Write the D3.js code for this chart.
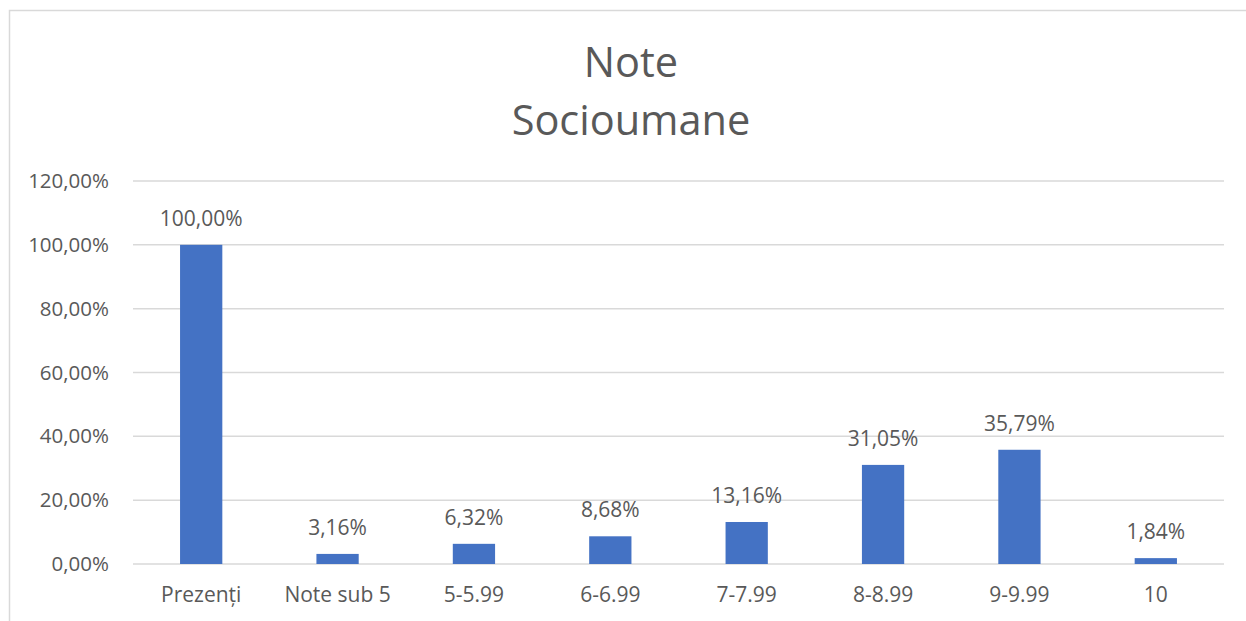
<!DOCTYPE html>
<html>
<head>
<meta charset="utf-8">
<script src="https://d3js.org/d3.v7.min.js"></script>
<style>
  body { margin: 0; background: #fff; }
  text { font-family: "Open Sans", "Noto Sans", sans-serif; fill: #595959; }
</style>
</head>
<body>
<div id="chart"></div>
<script>
// data
var categories = ["Prezenți", "Note sub 5", "5-5.99", "6-6.99", "7-7.99", "8-8.99", "9-9.99", "10"];
var values = [100.00, 3.16, 6.32, 8.68, 13.16, 31.05, 35.79, 1.84];
var yTicks = [0, 20, 40, 60, 80, 100, 120];
var titleLines = ["Note", "Socioumane"];

var W = 1246, H = 621;
var margin = {top: 181, right: 22, bottom: 57, left: 133},
    width = W - margin.left - margin.right,
    height = H - margin.top - margin.bottom;

var fmt = function(v) { return v.toFixed(2).replace(".", ",") + "%"; };

var svg = d3.select("#chart")
  .append("svg")
    .attr("width", W)
    .attr("height", H);

// chart frame (only top/left visible in the crop)
svg.append("rect")
  .attr("x", 9.5).attr("y", 10.5)
  .attr("width", W + 20).attr("height", H + 20)
  .attr("fill", "none")
  .attr("stroke", "#d9d9d9")
  .attr("stroke-width", 1.5);

// title
svg.append("g").selectAll("text")
  .data(titleLines)
  .join("text")
    .attr("x", 631)
    .attr("y", function(d, i) { return 77 + i * 58; })
    .attr("text-anchor", "middle")
    .style("font-size", "41.5px")
    .text(function(d) { return d; });

var g = svg.append("g")
  .attr("transform", "translate(" + margin.left + "," + margin.top + ")");

var x = d3.scaleBand()
  .domain(categories)
  .range([0, width])
  .padding(0);

var y = d3.scaleLinear()
  .domain([0, 120])
  .range([height, 0]);

// gridlines
g.append("g").selectAll("line")
  .data(yTicks)
  .join("line")
    .attr("x1", 0).attr("x2", width)
    .attr("y1", function(d) { return y(d); })
    .attr("y2", function(d) { return y(d); })
    .attr("stroke", "#d9d9d9")
    .attr("stroke-width", 1.5);

// y axis labels
var yAxis = g.append("g")
  .call(d3.axisLeft(y).tickValues(yTicks).tickFormat(fmt).tickSize(0).tickPadding(24));
yAxis.select(".domain").remove();
yAxis.selectAll("text").style("font-size", "20.5px").attr("fill", "#595959");

// x axis labels
var xAxis = g.append("g")
  .attr("transform", "translate(0," + height + ")")
  .call(d3.axisBottom(x).tickSize(0).tickPadding(23));
xAxis.select(".domain").remove();
xAxis.selectAll("text").style("font-size", "21px").attr("fill", "#595959");

var barW = x.bandwidth() * 0.31;

// bars
g.append("g").selectAll("rect")
  .data(values)
  .join("rect")
    .attr("x", function(d, i) { return x(categories[i]) + x.bandwidth() / 2 - barW / 2; })
    .attr("y", function(d) { return y(d); })
    .attr("width", barW)
    .attr("height", function(d) { return height - y(d); })
    .attr("fill", "#4472c4");

// value labels
g.append("g").selectAll("text")
  .data(values)
  .join("text")
    .attr("x", function(d, i) { return x(categories[i]) + x.bandwidth() / 2; })
    .attr("y", function(d) { return y(d) - 19; })
    .attr("text-anchor", "middle")
    .style("font-size", "21px")
    .text(function(d) { return fmt(d); });
</script>
</body>
</html>
